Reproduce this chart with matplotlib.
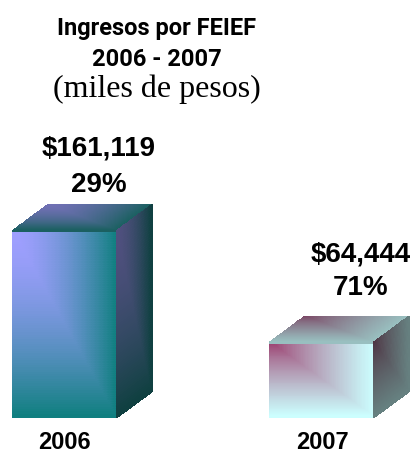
#!/usr/bin/env python3
"""Ingresos por FEIEF: two 3D-looking gradient blocks drawn with pcolormesh."""

import matplotlib

matplotlib.use("Agg")
import matplotlib.colors as mcolors
import matplotlib.pyplot as plt
import numpy as np

years = ["2006", "2007"]
ingresos = [161119, 64444]
amount_labels = ["$161,119", "$64,444"]
pct_labels = ["29%", "71%"]

# corner colour -> far colour for each face of each block
front_colors = [("#9f9fff", "#0f7f7f"), ("#993366", "#ccffff")]
top_colors = [("#7070b4", "#1a6060"), ("#7a4060", "#99c0c0")]
side_colors = [("#50507f", "#0f4040"), ("#4d3040", "#668080")]
gammas = [1.6, 0.75]

W, H = 411, 451
BASE_PX = 417
PX_PER_UNIT = 186 / 161119
BAR_LEFT = [13, 270]
BAR_W = 104
DX, DY_PX = 35, 26
LABEL_X = [99, 361]
YEAR_X = [64, 322]
AMOUNT_Y = [149, 255]
PCT_Y = [185, 288]


def px_y(y):
    # pixel row from the top -> data value
    return (BASE_PX - y) / PX_PER_UNIT


def face(ax, origin, e1, e2, colors, gamma, n=80):
    # rectangular gradient: starts at the origin corner, creases on the diagonal
    u, v = np.meshgrid(np.linspace(0, 1, n + 1), np.linspace(0, 1, n + 1))
    X = origin[0] + e1[0] * u + e2[0] * v
    Y = origin[1] + e1[1] * u + e2[1] * v
    uc = (u[:-1, :-1] + u[1:, 1:]) / 2
    vc = (v[:-1, :-1] + v[1:, 1:]) / 2
    t = (np.maximum(uc, vc) ** gamma)[..., None]
    c0 = np.array(mcolors.to_rgb(colors[0]))
    c1 = np.array(mcolors.to_rgb(colors[1]))
    ax.pcolormesh(X, Y, c0 * (1 - t) + c1 * t, shading="flat",
                  edgecolors="face", linewidth=0.1)


def main():
    fig = plt.figure(figsize=(W / 100, H / 100), dpi=100)
    ax = fig.add_axes([0, 0, 1, 1])
    ax.set_xlim(0, W)
    ax.set_ylim(px_y(H), px_y(0))
    ax.axis("off")

    dy = DY_PX / PX_PER_UNIT
    for i, val in enumerate(ingresos):
        x = BAR_LEFT[i]
        g = gammas[i]
        face(ax, (x, val), (BAR_W, 0), (0, -val), front_colors[i], g)
        face(ax, (x + DX, val + dy), (BAR_W, 0), (-DX, -dy), top_colors[i], g)
        face(ax, (x + BAR_W, val), (DX, dy), (0, -val), side_colors[i], g)

        for label, y in ((amount_labels[i], AMOUNT_Y[i]), (pct_labels[i], PCT_Y[i])):
            ax.text(LABEL_X[i], px_y(y), label, ha="center", va="center",
                    fontsize=20, fontweight="bold", family="Liberation Sans")
        ax.text(YEAR_X[i], px_y(449), years[i], ha="center", va="baseline",
                fontsize=17, fontweight="bold", family="Liberation Sans")

    fig.text(157 / W, 1 - 28 / H, "Ingresos por FEIEF", ha="center", va="center",
             fontsize=17, fontweight="bold", family="Roboto")
    fig.text(157 / W, 1 - 59 / H, "2006 - 2007", ha="center", va="center",
             fontsize=17, fontweight="bold", family="Roboto")
    fig.text(157 / W, 1 - 89 / H, "(miles de pesos)", ha="center", va="center",
             fontsize=23, family="Liberation Serif")

    fig.savefig("out.png", dpi=100)
    plt.close(fig)


if __name__ == "__main__":
    main()
